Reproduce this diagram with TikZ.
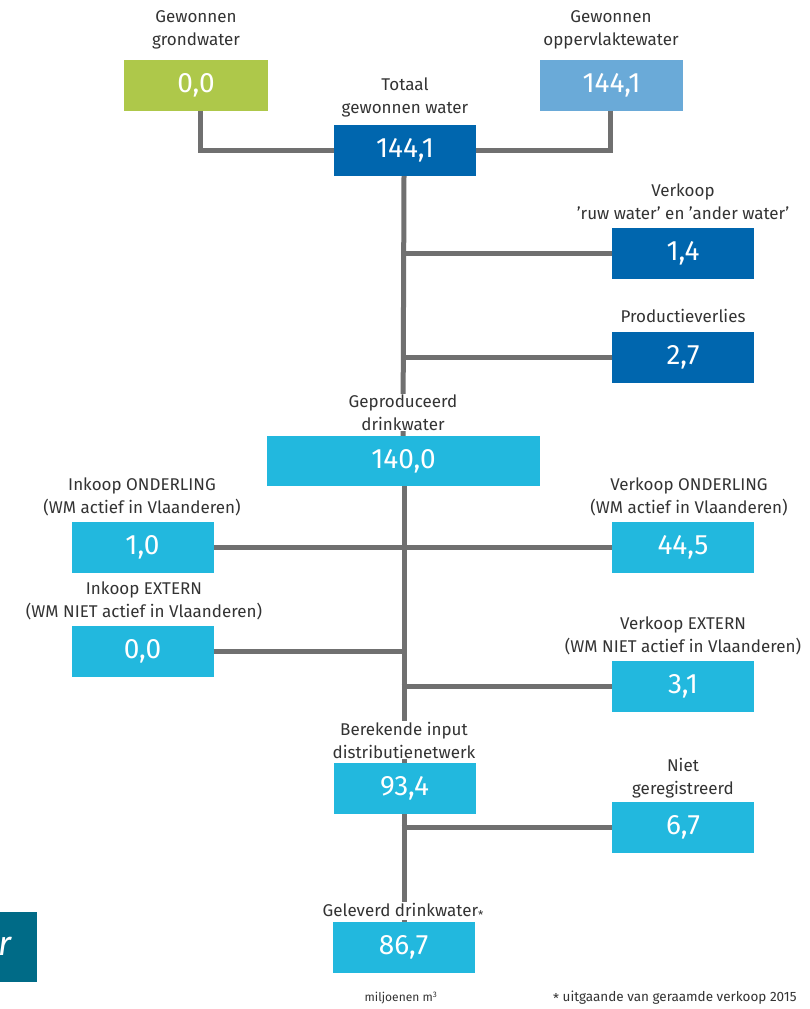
\documentclass[tikz,border=0pt]{standalone}
\usepackage{fontspec}
\setmainfont{Fira Sans}
\definecolor{cgreen}{HTML}{AEC84A}
\definecolor{clight}{HTML}{6AAAD8}
\definecolor{cdark}{HTML}{0066AE}
\definecolor{ccyan}{HTML}{22B8DE}
\definecolor{cteal}{HTML}{006B87}
\definecolor{cline}{HTML}{707070}
\definecolor{ctext}{HTML}{333333}
\begin{document}
\begin{tikzpicture}[x=1pt,y=-1pt,
  valbox/.style={fill=#1,text=white,inner sep=0pt,minimum width=142pt,minimum height=51pt,
    font=\fontsize{28}{28}\selectfont},
  lab/.style={text=ctext,fill=white,align=center,inner xsep=2pt,inner ysep=1pt,font=\fontsize{17}{23}\selectfont},
  conn/.style={draw=cline,line width=5pt}]
\useasboundingbox (0,0) rectangle (810,1009);
\fill[white] (0,0) rectangle (810,1009);
% boxes
\node[valbox=cgreen,minimum width=144pt] (gw) at (196,85) {0,0};
\node[valbox=clight,minimum width=143pt] (ow) at (611.5,85) {144,1};
\node[valbox=cdark] (tot) at (405,150.5) {144,1};
\node[valbox=cdark] (ruw) at (683,253) {1,4};
\node[valbox=cdark] (prod) at (683,357.5) {2,7};
\node[valbox=ccyan,minimum width=273pt,minimum height=50pt] (gep) at (403.5,461) {140,0};
\node[valbox=ccyan] (inko) at (142.5,547.5) {1,0};
\node[valbox=ccyan] (verko) at (683,547.5) {44,5};
\node[valbox=ccyan] (inke) at (142.5,651.5) {0,0};
\node[valbox=ccyan] (verke) at (683,686.5) {3,1};
\node[valbox=ccyan] (ber) at (404.5,788.5) {93,4};
\node[valbox=ccyan] (niet) at (683,827.5) {6,7};
\node[valbox=ccyan] (gel) at (403.5,947.5) {86,7};
% connectors
\draw[conn] ([xshift=4pt]gw.south) |- (tot.west);
\draw[conn] ([xshift=-1pt]ow.south) |- (tot.east);
\draw[conn] ([xshift=-1pt]tot.south) -- ([xshift=-0.5pt]gep.north);
\draw[conn] ([xshift=0.5pt]gep.south) -- ([xshift=-0.5pt]ber.north);
\draw[conn] ([xshift=-0.5pt]ber.south) -- ([xshift=0.5pt]gel.north);
\coordinate (t1) at ([xshift=-1pt]tot.south |- ruw.west);
\draw[conn] ([xshift=-2.5pt]t1) -- (ruw.west);
\coordinate (t2) at ([xshift=-1pt]tot.south |- prod.west);
\draw[conn] ([xshift=-2.5pt]t2) -- (prod.west);
\draw[conn] (inko.east) -- (verko.west);
\coordinate (t3) at ([xshift=-1pt]tot.south |- inke.east);
\draw[conn] (inke.east) -- ([xshift=2.5pt]t3);
\coordinate (t4) at ([xshift=-1pt]tot.south |- verke.west);
\draw[conn] ([xshift=-2.5pt]t4) -- (verke.west);
\coordinate (t5) at ([xshift=-1pt]tot.south |- niet.west);
\draw[conn] ([xshift=-2.5pt]t5) -- (niet.west);
% labels
\node[lab] (lgw) at (196,30) {Gewonnen\\grondwater};
\node[lab] (low) at (611,30) {Gewonnen\\oppervlaktewater};
\node[lab] (ltot) at (405,97) {Totaal\\gewonnen water};
\node[lab] (lruw) at (683,201.5) {Verkoop\\'ruw water' en 'ander water'};
\node[lab] (lprod) at (683,316) {Productieverlies};
\node[lab] (lgep) at (403,412.5) {Geproduceerd\\drinkwater};
\node[lab] (linko) at (142,496.5) {Inkoop ONDERLING\\(WM actief in Vlaanderen)};
\node[lab] (lverko) at (689,496.5) {Verkoop ONDERLING\\(WM actief in Vlaanderen)};
\node[lab] (linke) at (144,600.5) {Inkoop EXTERN\\(WM NIET actief in Vlaanderen)};
\node[lab] (lverke) at (683,636) {Verkoop EXTERN\\(WM NIET actief in Vlaanderen)};
\node[lab] (lber) at (404,740) {Berekende input\\distributienetwerk};
\node[lab] (lniet) at (683,778) {Niet\\geregistreerd};
\node[lab] (lgel) at (403,911) {Geleverd drinkwater\raisebox{-0.35ex}{\fontsize{12}{12}\selectfont*}};
% teal corner box
\begin{scope}
\clip (0,912) rectangle (37,982);
\fill[cteal] (0,912) rectangle (37,982);
\node[text=white,inner sep=0pt,anchor=east,font=\fontsize{34}{34}\selectfont\itshape] (rr) at (12,946) {r};
\end{scope}
% footnotes
\node[text=ctext,inner sep=0pt,font=\fontsize{12}{12}\selectfont] (unit) at (401,998) {miljoenen m\textsuperscript{3}};
\node[text=ctext,inner sep=0pt,anchor=west,font=\fontsize{13.5}{13.5}\selectfont] (note) at (553,998) {\raisebox{-0.3ex}{*} uitgaande van geraamde verkoop 2015};
\end{tikzpicture}
\end{document}
